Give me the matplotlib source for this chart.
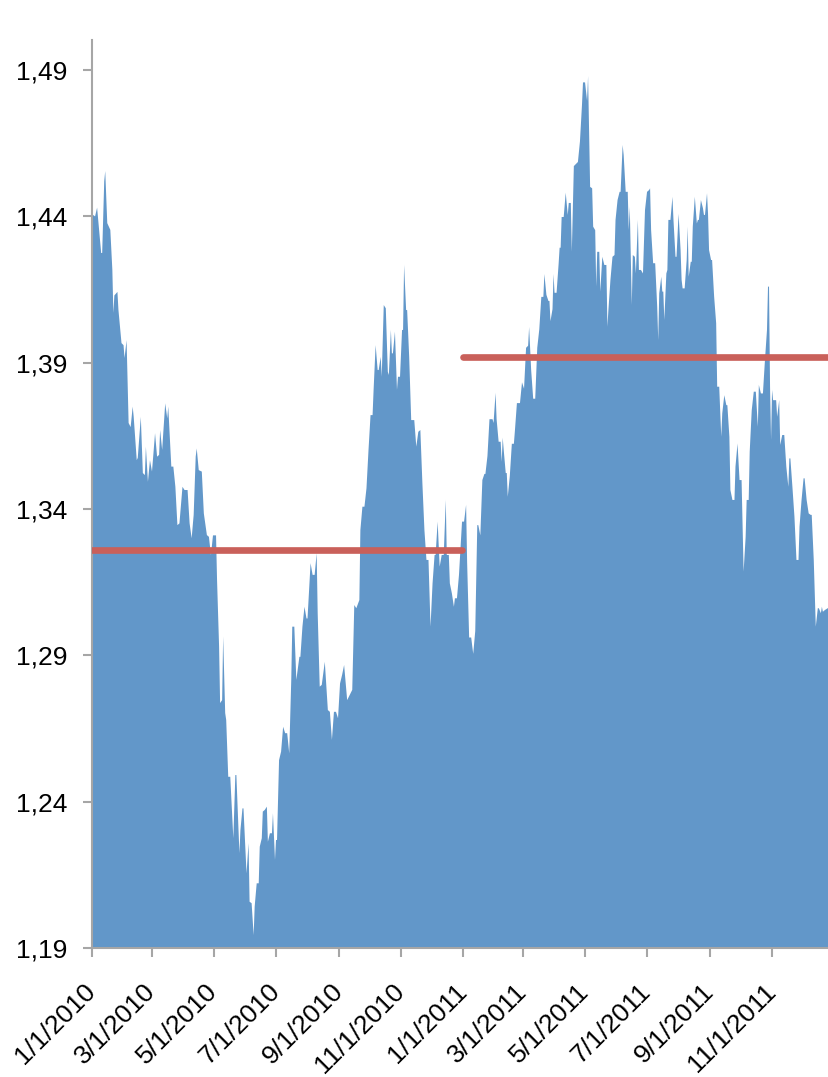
import numpy as np
import matplotlib
matplotlib.use('Agg')
import matplotlib.pyplot as plt
from matplotlib.ticker import FuncFormatter

plt.rcParams['font.family'] = ['Liberation Sans', 'DejaVu Sans']

# EUR/USD, day = days counted from 1 Jan 2010
day = [0, 1, 3, 5, 9, 10, 12, 13, 15, 18,
       20, 21, 22, 25, 26, 29, 31, 32, 34, 36,
       38, 40, 41, 44, 45, 48, 50, 52, 53, 55,
       57, 59, 62, 64, 66, 67, 69, 72, 74, 75,
       78, 80, 82, 84, 86, 89, 91, 94, 96, 98,
       100, 102, 103, 105, 108, 110, 113, 115, 117, 119,
       122, 123, 125, 126, 128, 129, 131, 132, 134, 136,
       139, 141, 142, 145, 146, 148, 149, 152, 154, 155,
       157, 159, 160, 162, 164, 165, 167, 168, 170, 172,
       173, 175, 177, 178, 180, 181, 182, 184, 186, 188,
       190, 192, 194, 196, 197, 199, 201, 204, 205, 207,
       209, 211, 212, 215, 217, 219, 221, 222, 224, 226,
       229, 232, 234, 236, 238, 240, 242, 244, 246, 248,
       251, 256, 258, 260, 263, 264, 266, 268, 270, 272,
       274, 276, 277, 279, 281, 282, 284, 285, 287, 289,
       291, 292, 294, 295, 296, 298, 300, 301, 303, 305,
       306, 307, 309, 310, 312, 314, 317, 319, 321, 323,
       325, 327, 329, 331, 333, 335, 337, 338, 340, 342,
       344, 346, 348, 349, 351, 352, 354, 356, 357, 359,
       361, 364,
       366, 368, 369, 371, 373, 375, 377, 379, 380, 382,
       384, 386, 387, 389, 391, 394, 395, 397, 398, 400,
       402, 403, 404, 405, 407, 408, 409, 411, 413, 415,
       416, 418, 421, 423, 425, 427, 429, 430, 432, 434,
       436, 438, 440, 442, 444, 445, 447, 449, 450, 451,
       453, 454, 455, 457, 459, 460, 461, 462, 464, 466,
       468, 469, 471, 472, 474, 476, 478, 480, 482, 483,
       485, 487, 488, 490, 492, 493, 495, 496, 497, 499,
       500, 502, 504, 506, 507, 508, 510, 512, 514, 515,
       517, 519, 520, 522, 523, 525, 527, 528, 529, 531,
       532, 534, 535, 537, 538, 540, 542, 544, 546, 548,
       549, 550, 552, 554, 556, 557, 558, 560, 561, 562,
       563, 565, 566, 567, 569, 571, 572, 574, 575, 577,
       579, 580, 581, 583, 585, 586, 587, 589, 590, 591,
       593, 595, 596, 597, 599, 601, 602, 603, 605, 606,
       607, 609, 610, 612, 614, 615, 617, 619, 620, 622,
       624, 625, 627, 628, 630, 632, 633, 635, 637, 639,
       641, 643, 644, 646, 647, 649, 651, 653, 655, 656,
       658, 660, 662, 664, 665, 666, 667, 668, 669, 670,
       673, 674, 676, 677, 679, 681, 683, 685, 686, 687,
       689, 691, 693, 695, 696, 698, 700, 701, 703, 705,
       707, 708, 710, 712, 714, 715, 717, 718, 719, 721,
       726]

rate = [1.4405, 1.4405, 1.440, 1.443, 1.4275, 1.4275, 1.452, 1.4555, 1.4377, 1.4354,
        1.4217, 1.407, 1.413, 1.4142, 1.408, 1.3967, 1.396, 1.3916, 1.3977, 1.3694,
        1.368, 1.375, 1.3715, 1.3567, 1.3575, 1.3715, 1.3523, 1.3516, 1.3613, 1.3493,
        1.3567, 1.3528, 1.3659, 1.3579, 1.3585, 1.367, 1.3602, 1.3761, 1.371, 1.375,
        1.3545, 1.3545, 1.3476, 1.3345, 1.3351, 1.3476, 1.3465, 1.3465, 1.3351, 1.330,
        1.338, 1.3579, 1.3607, 1.3533, 1.3528, 1.3385, 1.3311, 1.3305, 1.3243, 1.331,
        1.331, 1.3157, 1.293, 1.2737, 1.2747, 1.2964, 1.2703, 1.2679, 1.2485, 1.2485,
        1.2275, 1.2491, 1.2491, 1.2224, 1.2303, 1.2377, 1.2377, 1.2155, 1.2258, 1.2058,
        1.2053, 1.1944, 1.2041, 1.2121, 1.2121, 1.2246, 1.2275, 1.2366, 1.2372, 1.2383,
        1.2263, 1.2292, 1.2292, 1.236, 1.2201, 1.2269, 1.2269, 1.2542, 1.2571, 1.2656,
        1.2634, 1.2634, 1.2565, 1.2816, 1.2998, 1.2998, 1.2816, 1.2895, 1.2895, 1.2998,
        1.3066, 1.3026, 1.3026, 1.3215, 1.3175, 1.3175, 1.3249, 1.3044, 1.2793, 1.2799,
        1.2878, 1.2713, 1.2707, 1.2611, 1.2707, 1.2707, 1.2685, 1.2804, 1.2833, 1.2867,
        1.2747, 1.2782, 1.3072, 1.3061, 1.3089, 1.3328, 1.3408, 1.3408, 1.3471, 1.3602,
        1.3721, 1.3721, 1.3807, 1.396, 1.3875, 1.3875, 1.392, 1.3852, 1.4097, 1.4086,
        1.3869, 1.3858, 1.4012, 1.3932, 1.3932, 1.4006, 1.3807, 1.3852, 1.3852, 1.4012,
        1.4012, 1.4234, 1.408, 1.408, 1.392, 1.3704, 1.3704, 1.3613, 1.3664, 1.367,
        1.3488, 1.3328, 1.3226, 1.3226, 1.2998, 1.3146, 1.3243, 1.3243, 1.3357, 1.3203,
        1.3243, 1.3243, 1.3431, 1.3243, 1.3243, 1.3146, 1.3112, 1.3066, 1.3095, 1.3095,
        1.3175, 1.3357,
        1.3357, 1.3414, 1.3219, 1.2961, 1.2961, 1.2905, 1.2983, 1.3345, 1.3345, 1.331,
        1.3499, 1.352, 1.352, 1.3581, 1.3707, 1.3707, 1.3694, 1.3797, 1.3707, 1.363,
        1.363, 1.3561, 1.3644, 1.3602, 1.3523, 1.3523, 1.3442, 1.3513, 1.3623, 1.3623,
        1.3667, 1.3762, 1.3762, 1.3833, 1.3811, 1.3951, 1.3958, 1.4022, 1.3875, 1.3777,
        1.3777, 1.3951, 1.4014, 1.4125, 1.4125, 1.4203, 1.4132, 1.4111, 1.4111, 1.4042,
        1.4083, 1.4203, 1.4139, 1.4139, 1.4237, 1.4293, 1.4293, 1.4398, 1.4398, 1.4481,
        1.4405, 1.4446, 1.4446, 1.4279, 1.4572, 1.4579, 1.4586, 1.4656, 1.4781, 1.4858,
        1.4858, 1.4795, 1.4879, 1.4501, 1.4496, 1.4365, 1.4353, 1.416, 1.4279, 1.4279,
        1.4143, 1.4262, 1.4234, 1.4234, 1.4023, 1.408, 1.4183, 1.4262, 1.4268, 1.4388,
        1.4456, 1.4484, 1.4484, 1.4644, 1.461, 1.4484, 1.4484, 1.4353, 1.4433, 1.4097,
        1.4268, 1.4262, 1.4205, 1.4388, 1.4217, 1.4217, 1.4205, 1.4422, 1.4484, 1.449,
        1.4496, 1.4353, 1.424, 1.424, 1.4091, 1.3977, 1.4137, 1.4194, 1.4143, 1.4143,
        1.4046, 1.4205, 1.4217, 1.4388, 1.4388, 1.4467, 1.4388, 1.4262, 1.4262, 1.4409,
        1.4285, 1.4183, 1.4154, 1.4154, 1.4251, 1.4365, 1.4194, 1.4245, 1.4245, 1.4365,
        1.4467, 1.4376, 1.4388, 1.4388, 1.4456, 1.4428, 1.4405, 1.4405, 1.4479, 1.4409,
        1.4285, 1.4251, 1.4251, 1.4126, 1.4035, 1.3818, 1.3818, 1.3647, 1.3727, 1.3789,
        1.3755, 1.3755, 1.3647, 1.3465, 1.3431, 1.3431, 1.3545, 1.3624, 1.3499, 1.3499,
        1.3186, 1.3305, 1.3431, 1.3431, 1.3596, 1.3738, 1.3801, 1.3801, 1.3681, 1.3824,
        1.3795, 1.3795, 1.3909, 1.4012, 1.416, 1.416, 1.3818, 1.3636, 1.3807, 1.3772,
        1.3772, 1.3715, 1.3772, 1.3619, 1.3653, 1.3653, 1.3545, 1.3476, 1.3573, 1.3573,
        1.3476, 1.3374, 1.3226, 1.3226, 1.334, 1.3431, 1.3505, 1.3505, 1.3431, 1.3385,
        1.338, 1.338, 1.3226, 1.2998, 1.3061, 1.3061, 1.3044, 1.3066, 1.3049, 1.3055,
        1.3066]

assert len(day) == len(rate)

# yearly averages
avg_years = [2010, 2011]
avg_values = [1.326, 1.392]

tick_months = [1, 3, 5, 7, 9, 11]
tick_years = [2010, 2011]

start = np.datetime64('2010-01-01')
dates = start + np.array(day).astype('timedelta64[D]')

fig = plt.figure(figsize=(8.29, 10.77), dpi=100)
ax = fig.add_axes([0.111, 0.1198, 0.889, 0.8431])

ax.fill_between(dates, rate, 0, color='#6297C9', linewidth=0, zorder=1)

for yr, val in zip(avg_years, avg_values):
    ax.plot([np.datetime64(f'{yr}-01-01'), np.datetime64(f'{yr}-12-31')], [val, val],
            color='#C9605A', lw=4.8, solid_capstyle='round', zorder=3)

ax.set_ylim(1.19, 1.5003)
ax.set_xlim(start, start + np.timedelta64(725, 'D'))

ax.set_yticks(np.arange(1.19, 1.495, 0.05))
ax.yaxis.set_major_formatter(FuncFormatter(lambda v, p: f'{v:.2f}'.replace('.', ',')))

ticks = [np.datetime64(f'{y}-{m:02d}-01') for y in tick_years for m in tick_months]
labels = [f'{m}/1/{y}' for y in tick_years for m in tick_months]
ax.set_xticks(ticks)
ax.set_xticklabels(labels, rotation=45, ha='right', va='center', rotation_mode='anchor')

for side in ['top', 'right']:
    ax.spines[side].set_visible(False)
for side in ['left', 'bottom']:
    ax.spines[side].set_color('#A6A6A6')
    ax.spines[side].set_linewidth(1.5)

ax.tick_params(axis='both', direction='out', length=6.5, width=1.5, color='#A6A6A6',
               labelsize=19, labelcolor='black')
ax.tick_params(axis='y', pad=11)
ax.tick_params(axis='x', pad=22)
for lbl in ax.get_xticklabels():
    lbl.set_x(lbl.get_position()[0])

fig.savefig('out.png', dpi=100)
